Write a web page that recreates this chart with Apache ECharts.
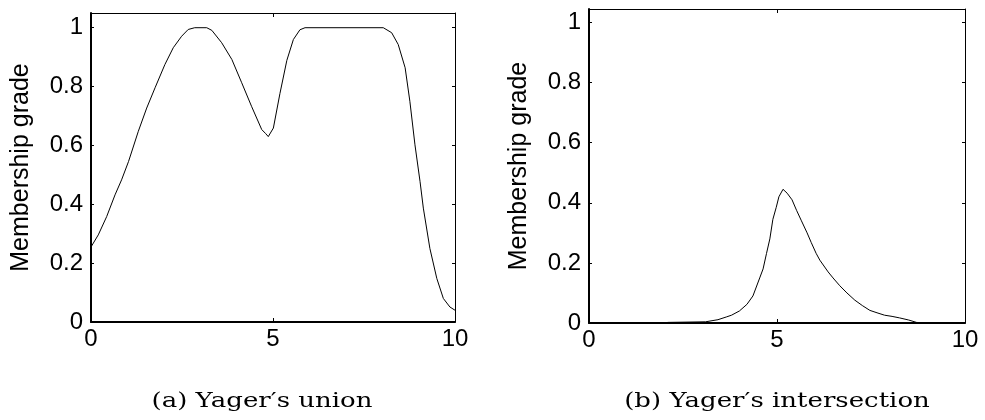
<!DOCTYPE html>
<html>
<head>
<meta charset="utf-8">
<title>Yager's union and intersection</title>
<script src="https://cdn.jsdelivr.net/npm/echarts@6/dist/echarts.min.js"></script>
<style>
  html, body { margin: 0; padding: 0; background: #fff; }
  #chart { width: 985px; height: 420px; }
</style>
</head>
<body>
<div id="chart"></div>
<script>
// Yager's union: membership grade over the universe 0..10
var unionX = [0.00, 0.20, 0.43, 0.66, 0.84, 1.03, 1.30, 1.53, 1.76, 2.03, 2.26, 2.49, 2.67, 2.85,
              3.18, 3.32, 3.59, 3.87, 4.14, 4.41, 4.69, 4.80, 4.87, 5.01, 5.19, 5.38, 5.56, 5.74,
              5.88, 8.03, 8.26, 8.44, 8.63, 8.76, 8.90, 9.04, 9.13, 9.31, 9.50, 9.68, 9.86, 10.00];
var unionY = [0.255, 0.296, 0.358, 0.432, 0.483, 0.545, 0.648, 0.727, 0.796, 0.875, 0.932, 0.971, 0.994, 1.000,
              1.000, 0.991, 0.949, 0.892, 0.813, 0.733, 0.654, 0.640, 0.630, 0.659, 0.776, 0.889, 0.960, 0.993,
              1.000, 1.000, 0.983, 0.943, 0.864, 0.750, 0.602, 0.477, 0.387, 0.250, 0.148, 0.080, 0.051, 0.040];

// Yager's intersection
var interX = [0.00, 1.00, 2.00, 2.10, 3.10, 3.43, 3.65, 3.79, 4.00, 4.20, 4.36, 4.54, 4.63, 4.72, 4.81,
              4.89, 4.98, 5.05, 5.16, 5.27, 5.40, 5.52, 5.65, 5.80, 5.91, 6.04, 6.14, 6.36, 6.49,
              6.67, 6.86, 7.07, 7.27, 7.47, 7.66, 7.86, 8.06, 8.26, 8.50, 8.71, 8.90, 10.00];
var interY = [0.000, 0.000, 0.000, 0.002, 0.004, 0.011, 0.020, 0.026, 0.040, 0.062, 0.090, 0.150, 0.180, 0.231, 0.280,
              0.345, 0.385, 0.420, 0.445, 0.432, 0.410, 0.375, 0.340, 0.300, 0.268, 0.232, 0.209, 0.170, 0.150,
              0.124, 0.100, 0.076, 0.058, 0.042, 0.034, 0.026, 0.022, 0.017, 0.010, 0.002, 0.000, 0.000];

var yTicks = [0, 0.2, 0.4, 0.6, 0.8, 1];
var xTicks = [0, 5, 10];
var yName = 'Membership grade';
var captions = ['(a) Yager\u2032s union', '(b) Yager\u2032s intersection'];

function pairs(xs, ys) {
  return xs.map(function (x, i) { return [x, ys[i]]; });
}

var sansFont = "'Liberation Sans', Arial, sans-serif";
var tickFont = 24;

function xAxisFor(gridIndex, pos) {
  var bottom = pos === 'bottom';
  return {
    type: 'value', gridIndex: gridIndex, position: pos,
    min: xTicks[0], max: xTicks[xTicks.length - 1], interval: xTicks[1] - xTicks[0],
    axisLine: { show: true, onZero: false, lineStyle: { color: '#000', width: bottom ? 2 : 1 } },
    axisTick: { show: true, inside: true, length: 4, lineStyle: { color: '#000', width: 1 } },
    axisLabel: { show: bottom, color: '#000', fontSize: tickFont, fontFamily: sansFont, margin: 5 },
    splitLine: { show: false }
  };
}

function yAxisFor(gridIndex, pos, maxV) {
  var left = pos === 'left';
  var ax = {
    type: 'value', gridIndex: gridIndex, position: pos,
    min: 0, max: maxV, interval: yTicks[1] - yTicks[0],
    axisLine: { show: true, onZero: false, lineStyle: { color: '#000', width: left ? 2 : 1 } },
    axisTick: { show: true, inside: true, length: 3, lineStyle: { color: '#000', width: 1 } },
    axisLabel: {
      show: left, color: '#000', fontSize: tickFont, fontFamily: sansFont, margin: 8,
      showMaxLabel: false,
      formatter: function (v) {
        return yTicks.some(function (t) { return Math.abs(t - v) < 1e-9; }) ? String(+v.toFixed(1)) : '';
      }
    },
    splitLine: { show: false }
  };
  if (left) {
    ax.name = yName;
    ax.nameLocation = 'middle';
    ax.nameGap = 57;
    ax.nameTextStyle = { color: '#000', fontSize: 25, fontFamily: sansFont };
  }
  return ax;
}

var chart = echarts.init(document.getElementById('chart'), null, { renderer: 'canvas' });

chart.setOption({
  backgroundColor: '#fff',
  animation: false,
  grid: [
    { left: 91, top: 13, width: 364, height: 309 },
    { left: 589, top: 9, width: 376, height: 314 }
  ],
  xAxis: [
    xAxisFor(0, 'bottom'), xAxisFor(0, 'top'),
    xAxisFor(1, 'bottom'), xAxisFor(1, 'top')
  ],
  yAxis: [
    yAxisFor(0, 'left', 1.05), yAxisFor(0, 'right', 1.05),
    yAxisFor(1, 'left', 1.045), yAxisFor(1, 'right', 1.045)
  ],
  series: [
    {
      type: 'line', xAxisIndex: 0, yAxisIndex: 0,
      data: pairs(unionX, unionY),
      showSymbol: false, symbol: 'none',
      lineStyle: { color: '#000', width: 1 }
    },
    {
      type: 'line', xAxisIndex: 2, yAxisIndex: 2,
      data: pairs(interX, interY),
      showSymbol: false, symbol: 'none',
      lineStyle: { color: '#000', width: 1 }
    }
  ],
  graphic: [
    {
      type: 'text', x: 262, y: 402, scaleX: 1.3,
      style: {
        text: captions[0], fill: '#000', align: 'center', verticalAlign: 'middle',
        font: "20px 'DejaVu Serif', 'Liberation Serif', serif"
      }
    },
    {
      type: 'text', x: 777, y: 402, scaleX: 1.3,
      style: {
        text: captions[1], fill: '#000', align: 'center', verticalAlign: 'middle',
        font: "20px 'DejaVu Serif', 'Liberation Serif', serif"
      }
    }
  ]
});
</script>
</body>
</html>
